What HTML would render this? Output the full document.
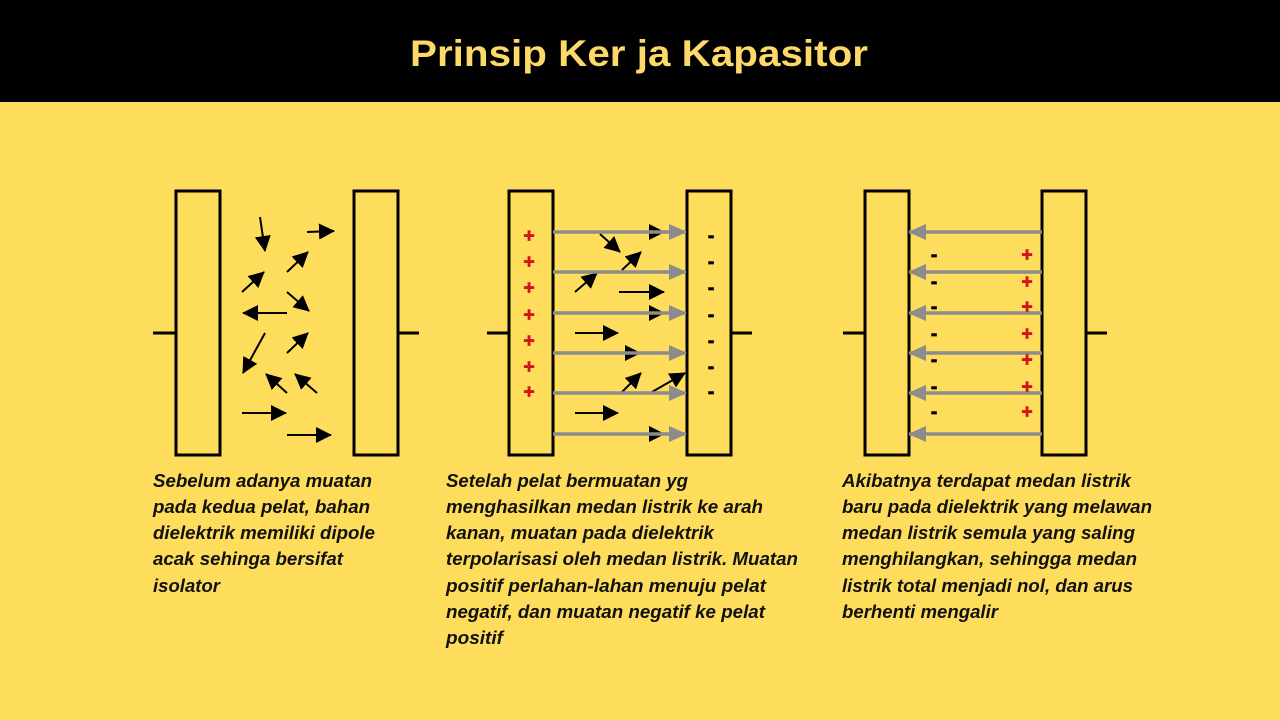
<!DOCTYPE html>
<html><head><meta charset="utf-8"><style>
html,body{margin:0;padding:0;width:1280px;height:720px;overflow:hidden;background:#FEDC5C}
svg{display:block}
.t{font-family:"Liberation Sans",Arial,sans-serif;font-weight:bold;font-style:italic;font-size:18px;fill:#111}
</style></head><body>
<svg width="1280" height="720" viewBox="0 0 1280 720" xmlns="http://www.w3.org/2000/svg">
<defs>
<marker id="bh" markerWidth="16" markerHeight="16" refX="15" refY="8" orient="auto" markerUnits="userSpaceOnUse"><path d="M0,0 L16,8 L0,16 z" fill="#000"/></marker>
<marker id="gr" markerWidth="18" markerHeight="16" refX="17" refY="8" orient="auto" markerUnits="userSpaceOnUse"><path d="M0,0 L18,8 L0,16 z" fill="#8c8c8c"/></marker>
</defs>
<rect x="0" y="0" width="1280" height="102" fill="#000"/>
<text x="639" y="66" text-anchor="middle" font-family="'Liberation Sans',Arial,sans-serif" font-weight="bold" font-size="37" fill="#FCD968" textLength="458" lengthAdjust="spacingAndGlyphs">Prinsip Ker ja Kapasitor</text>

<g stroke="#000" stroke-width="3" fill="none">
<rect x="176" y="191" width="44" height="264"/><rect x="354" y="191" width="44" height="264"/>
<line x1="153" y1="333" x2="176" y2="333"/><line x1="398" y1="333" x2="419" y2="333"/>
<rect x="509" y="191" width="44" height="264"/><rect x="687" y="191" width="44" height="264"/>
<line x1="487" y1="333" x2="509" y2="333"/><line x1="731" y1="333" x2="752" y2="333"/>
<rect x="865" y="191" width="44" height="264"/><rect x="1042" y="191" width="44" height="264"/>
<line x1="843" y1="333" x2="865" y2="333"/><line x1="1086" y1="333" x2="1107" y2="333"/>
</g>

<g stroke="#000" stroke-width="2" marker-end="url(#bh)">
<line x1="260" y1="217" x2="265" y2="251"/>
<line x1="307" y1="232" x2="334" y2="231"/>
<line x1="287" y1="272" x2="308" y2="252"/>
<line x1="242" y1="292" x2="264" y2="272"/>
<line x1="287" y1="292" x2="309" y2="311"/>
<line x1="287" y1="313" x2="243" y2="313"/>
<line x1="265" y1="333" x2="243" y2="373"/>
<line x1="287" y1="353" x2="308" y2="333"/>
<line x1="287" y1="393" x2="266" y2="374"/>
<line x1="317" y1="393" x2="295" y2="374"/>
<line x1="242" y1="413" x2="286" y2="413"/>
<line x1="287" y1="435" x2="331" y2="435"/>
</g>

<g stroke="#000" stroke-width="2" marker-end="url(#bh)">
<line x1="600" y1="234" x2="620" y2="252"/>
<line x1="622" y1="270" x2="641" y2="252"/>
<line x1="575" y1="292" x2="597" y2="273"/>
<line x1="619" y1="292" x2="664" y2="292"/>
<line x1="575" y1="333" x2="618" y2="333"/>
<line x1="622" y1="392" x2="641" y2="373"/>
<line x1="652" y1="392" x2="685" y2="373"/>
<line x1="575" y1="413" x2="618" y2="413"/>
<line x1="630" y1="232" x2="664" y2="232"/>
<line x1="630" y1="313" x2="664" y2="313"/>
<line x1="610" y1="353" x2="640" y2="353"/>
<line x1="630" y1="434" x2="664" y2="434"/>
</g>
<g stroke="#8c8c8c" stroke-width="3.5" marker-end="url(#gr)">
<line x1="553" y1="232" x2="686" y2="232"/>
<line x1="553" y1="272" x2="686" y2="272"/>
<line x1="553" y1="313" x2="686" y2="313"/>
<line x1="553" y1="353" x2="686" y2="353"/>
<line x1="553" y1="393" x2="686" y2="393"/>
<line x1="553" y1="434" x2="686" y2="434"/>
<line x1="1042" y1="232" x2="909" y2="232"/>
<line x1="1042" y1="272" x2="909" y2="272"/>
<line x1="1042" y1="313" x2="909" y2="313"/>
<line x1="1042" y1="353" x2="909" y2="353"/>
<line x1="1042" y1="393" x2="909" y2="393"/>
<line x1="1042" y1="434" x2="909" y2="434"/>
</g>

<g font-family="'Liberation Sans',Arial,sans-serif" font-weight="bold" font-size="19" text-anchor="middle">
<g fill="#d4141b" stroke="#d4141b" stroke-width="0.8">
<text x="529" y="242">+</text><text x="529" y="268">+</text><text x="529" y="294">+</text><text x="529" y="321">+</text><text x="529" y="347">+</text><text x="529" y="373">+</text><text x="529" y="398">+</text>
<text x="1027" y="261">+</text><text x="1027" y="288">+</text><text x="1027" y="313">+</text><text x="1027" y="340">+</text><text x="1027" y="366">+</text><text x="1027" y="393">+</text><text x="1027" y="418">+</text>
</g>
<g fill="#000" stroke="#000" stroke-width="0.8">
<text x="711" y="242">-</text><text x="711" y="268">-</text><text x="711" y="294">-</text><text x="711" y="321">-</text><text x="711" y="347">-</text><text x="711" y="373">-</text><text x="711" y="398">-</text>
<text x="934" y="261">-</text><text x="934" y="288">-</text><text x="934" y="313">-</text><text x="934" y="340">-</text><text x="934" y="366">-</text><text x="934" y="393">-</text><text x="934" y="418">-</text>
</g>
</g>

<g class="t">
<text x="153" y="487" textLength="219" lengthAdjust="spacingAndGlyphs">Sebelum adanya muatan</text>
<text x="153" y="513" textLength="217" lengthAdjust="spacingAndGlyphs">pada kedua pelat, bahan</text>
<text x="153" y="539" textLength="222" lengthAdjust="spacingAndGlyphs">dielektrik memiliki dipole</text>
<text x="153" y="565" textLength="190" lengthAdjust="spacingAndGlyphs">acak sehinga bersifat</text>
<text x="153" y="592" textLength="67" lengthAdjust="spacingAndGlyphs">isolator</text>

<text x="446" y="487" textLength="242" lengthAdjust="spacingAndGlyphs">Setelah pelat bermuatan yg</text>
<text x="446" y="513" textLength="317" lengthAdjust="spacingAndGlyphs">menghasilkan medan listrik ke arah</text>
<text x="446" y="539" textLength="268" lengthAdjust="spacingAndGlyphs">kanan, muatan pada dielektrik</text>
<text x="446" y="565" textLength="352" lengthAdjust="spacingAndGlyphs">terpolarisasi oleh medan listrik. Muatan</text>
<text x="446" y="592" textLength="320" lengthAdjust="spacingAndGlyphs">positif  perlahan-lahan menuju pelat</text>
<text x="446" y="618" textLength="319" lengthAdjust="spacingAndGlyphs">negatif, dan muatan negatif ke pelat</text>
<text x="446" y="644" textLength="57" lengthAdjust="spacingAndGlyphs">positif</text>

<text x="842" y="487" textLength="289" lengthAdjust="spacingAndGlyphs">Akibatnya terdapat medan listrik</text>
<text x="842" y="513" textLength="310" lengthAdjust="spacingAndGlyphs">baru pada dielektrik yang melawan</text>
<text x="842" y="539" textLength="293" lengthAdjust="spacingAndGlyphs">medan listrik semula yang saling</text>
<text x="842" y="565" textLength="295" lengthAdjust="spacingAndGlyphs">menghilangkan, sehingga medan</text>
<text x="842" y="592" textLength="291" lengthAdjust="spacingAndGlyphs">listrik total menjadi nol, dan arus</text>
<text x="842" y="618" textLength="156" lengthAdjust="spacingAndGlyphs">berhenti mengalir</text>
</g>
</svg>
</body></html>
